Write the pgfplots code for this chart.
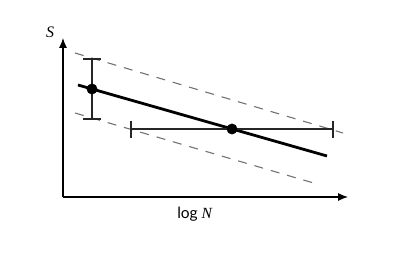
\documentclass[border=0pt]{standalone}
\usepackage{pgfplots}
\pgfplotsset{compat=1.18}
\usetikzlibrary{arrows.meta}
\usepackage{fontspec}
\setmainfont{Liberation Serif}
\newfontfamily\sansf{Lato}
\begin{document}
\begin{tikzpicture}
\path[use as bounding box] (-63pt,-63pt) rectangle (343pt,197pt);
\begin{axis}[
  scale only axis, width=285pt, height=159pt,
  xmin=0, xmax=285, ymin=0, ymax=159,
  axis lines=left, ticks=none, clip=false,
  axis line style={line width=1.1pt, -{Latex[length=10pt,width=8pt]}},
]
\addplot[black!55, line width=1.1pt, dash pattern=on 9pt off 8pt] coordinates {(12,144) (280,64)};
\addplot[black!55, line width=1.1pt, dash pattern=on 9pt off 8pt] coordinates {(12,84) (254,13)};
\addplot[black, line width=2.8pt] coordinates {(15,112) (264,41)};
\addplot[only marks, mark=*, mark size=5.2pt, black,
  error bars/.cd, y dir=both, y explicit, error mark=|,
  error bar style={line width=1.3pt, black!85},
  error mark options={mark size=9pt, line width=1.3pt, black!85}]
  coordinates {(29,108) +- (0,30)};
\addplot[only marks, mark=*, mark size=5.2pt, black,
  error bars/.cd, x dir=both, x explicit, error mark=|,
  error bar style={line width=1.3pt, black!85},
  error mark options={mark size=8.5pt, line width=1.3pt, black!85}]
  coordinates {(169,68) +- (101,0)};
\node[font=\fontsize{16}{18}\selectfont\itshape] at (axis cs:-13,165) {S};
\node[font=\fontsize{15.5}{17}\selectfont] at (axis cs:132,-17) {{\sansf log} \textit{N}};
\end{axis}
\end{tikzpicture}
\end{document}
